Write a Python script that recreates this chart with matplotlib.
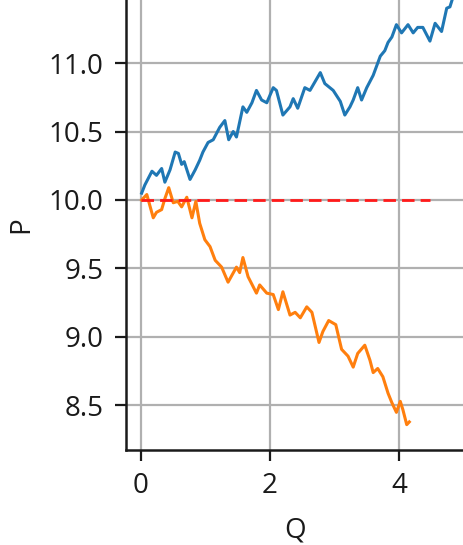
import matplotlib
matplotlib.use("Agg")
import matplotlib.pyplot as plt

plt.rcParams['font.family'] = ['Open Sans', 'DejaVu Sans']

# Price paths for the two series
q_up = [0.01, 0.06, 0.17, 0.24, 0.32, 0.37, 0.45, 0.53, 0.58, 0.63, 0.67, 0.76,
        0.84, 0.91, 0.96, 1.04, 1.12, 1.22, 1.30, 1.36, 1.43, 1.48, 1.58, 1.64,
        1.72, 1.79, 1.87, 1.95, 2.05, 2.10, 2.20, 2.31, 2.36, 2.43, 2.54, 2.62,
        2.78, 2.85, 2.98, 3.09, 3.16, 3.24, 3.29, 3.36, 3.42, 3.50, 3.60, 3.71,
        3.78, 3.83, 3.89, 3.96, 4.04, 4.14, 4.22, 4.29, 4.37, 4.48, 4.56, 4.66,
        4.74, 4.79, 4.85]
p_up = [10.05, 10.11, 10.21, 10.18, 10.23, 10.13, 10.22, 10.35, 10.34, 10.26,
        10.28, 10.15, 10.22, 10.29, 10.35, 10.42, 10.44, 10.53, 10.58, 10.44,
        10.50, 10.46, 10.68, 10.64, 10.71, 10.80, 10.73, 10.71, 10.82, 10.80,
        10.62, 10.68, 10.74, 10.67, 10.82, 10.80, 10.93, 10.85, 10.80, 10.72,
        10.62, 10.68, 10.73, 10.82, 10.73, 10.82, 10.91, 11.05, 11.09, 11.15,
        11.19, 11.28, 11.22, 11.28, 11.22, 11.26, 11.26, 11.16, 11.29, 11.23,
        11.40, 11.41, 11.50]

q_down = [0.01, 0.09, 0.19, 0.24, 0.32, 0.37, 0.43, 0.50, 0.57, 0.63, 0.71, 0.79,
          0.85, 0.91, 0.99, 1.07, 1.15, 1.25, 1.35, 1.48, 1.53, 1.58, 1.66, 1.79,
          1.84, 1.95, 2.05, 2.13, 2.20, 2.31, 2.39, 2.47, 2.57, 2.65, 2.76, 2.82,
          2.91, 3.02, 3.11, 3.21, 3.29, 3.36, 3.47, 3.55, 3.60, 3.67, 3.75, 3.83,
          3.89, 3.96, 4.02, 4.06, 4.12, 4.16]
p_down = [10.00, 10.04, 9.87, 9.91, 9.93, 10.01, 10.09, 9.98, 9.99, 9.95, 10.02,
          9.87, 9.99, 9.83, 9.71, 9.66, 9.56, 9.51, 9.40, 9.51, 9.47, 9.58, 9.44,
          9.32, 9.38, 9.32, 9.31, 9.20, 9.33, 9.16, 9.18, 9.14, 9.22, 9.18, 8.96,
          9.04, 9.12, 9.09, 8.91, 8.86, 8.78, 8.88, 8.94, 8.83, 8.74, 8.77, 8.71,
          8.59, 8.52, 8.45, 8.53, 8.47, 8.36, 8.38]

# Reference level
ref_q = [0.0, 4.48]
ref_p = [10.0, 10.0]

x_ticks = [0, 2, 4]
y_ticks = [8.5, 9.0, 9.5, 10.0, 10.5, 11.0]

W, H = 464, 545
fig = plt.figure(figsize=(W / 100, H / 100), dpi=100)
ax = fig.add_axes([126 / W, (H - 450) / H, (W - 126) / W, 450 / H])

ax.plot(q_up, p_up, color='#1f77b4', lw=2.2, zorder=3)
ax.plot(q_down, p_down, color='#ff7f0e', lw=2.2, zorder=3)
ax.plot(ref_q, ref_p, color='#ff1a1a', lw=2.0, ls=(0, (4.5, 2.2)), zorder=4)

ax.set_xlim(-0.2326, 5.008)
ax.set_ylim(8.175, 11.46)
ax.set_xticks(x_ticks)
ax.set_yticks(y_ticks)
ax.set_yticklabels([f"{v:.1f}" for v in y_ticks])

ax.grid(True, color='#b0b0b0', lw=1.6)
ax.set_axisbelow(True)
for s in ('top', 'right'):
    ax.spines[s].set_visible(False)
for s in ('left', 'bottom'):
    ax.spines[s].set_linewidth(1.8)
    ax.spines[s].set_color('#1a1a1a')

ax.tick_params(axis='both', length=8, width=1.6, color='#1a1a1a',
               labelsize=20, labelcolor='#1a1a1a', pad=8)

ax.set_xlabel('Q', fontsize=20, color='#1a1a1a', labelpad=12)
ax.set_ylabel('P', fontsize=20, color='#1a1a1a', labelpad=10)

fig.savefig('out.png', dpi=100, facecolor='white')
